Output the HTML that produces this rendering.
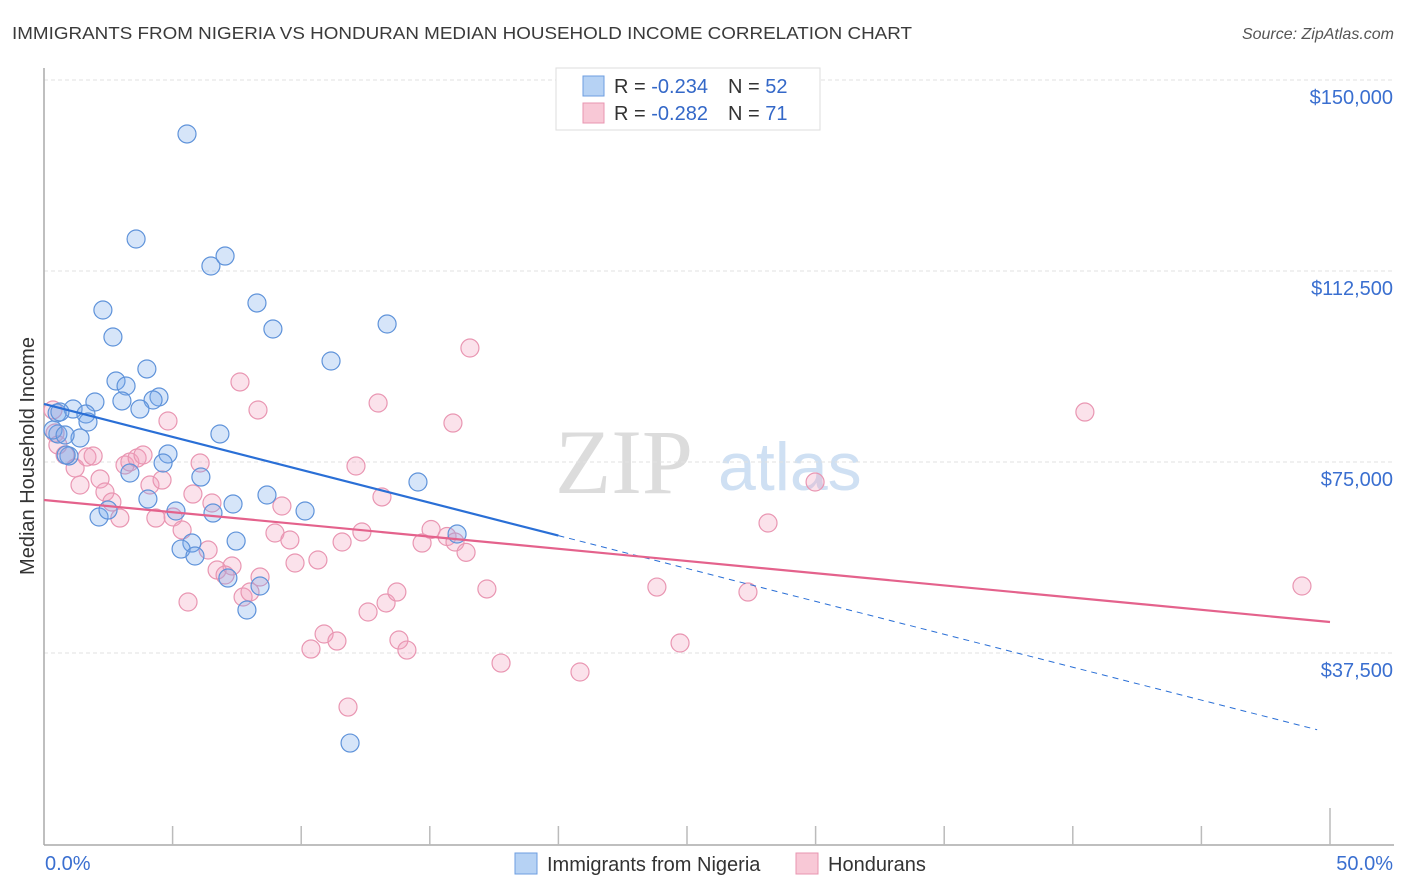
<!DOCTYPE html>
<html><head><meta charset="utf-8"><style>
body{margin:0;background:#fff;font-family:"Liberation Sans",sans-serif}
</style></head><body>
<svg id="chart" width="1406" height="892" xmlns="http://www.w3.org/2000/svg" style="display:block">
<text x="12" y="39" font-size="17.5" fill="#3a3a3a" textLength="900" lengthAdjust="spacingAndGlyphs">IMMIGRANTS FROM NIGERIA VS HONDURAN MEDIAN HOUSEHOLD INCOME CORRELATION CHART</text>
<text x="1394" y="39" font-size="16" font-style="italic" fill="#555" text-anchor="end">Source: ZipAtlas.com</text>
<g>
<text x="555" y="493" font-family="Liberation Serif,serif" font-size="92" fill="#dcdcdc">ZIP</text>
<text x="718" y="490" font-size="68" fill="#cfe0f3">atlas</text>
</g>
<g id="grid"></g>
<g id="axes"></g>
<g id="pts"></g>
<g id="trends"></g>
<text transform="translate(34,456) rotate(-90)" font-size="20" fill="#333" text-anchor="middle">Median Household Income</text>
<g>
<rect x="556" y="68" width="264" height="62" fill="#fff" stroke="#ddd"/>
<rect x="583" y="76" width="21" height="20" fill="#b6d2f4" stroke="#6d9ee0"/>
<rect x="583" y="103" width="21" height="20" fill="#f8c8d6" stroke="#e896b0"/>
<text x="614" y="93" font-size="20" fill="#333">R = <tspan fill="#3468c8">-0.234</tspan><tspan dx="20">N = </tspan><tspan fill="#3468c8">52</tspan></text>
<text x="614" y="120" font-size="20" fill="#333">R = <tspan fill="#3468c8">-0.282</tspan><tspan dx="20">N = </tspan><tspan fill="#3468c8"> 71</tspan></text>
</g>
<g>
<rect x="515" y="853" width="22" height="21" fill="#b6d2f4" stroke="#6d9ee0"/>
<text x="547" y="871" font-size="20" fill="#333">Immigrants from Nigeria</text>
<rect x="796" y="853" width="22" height="21" fill="#f8c8d6" stroke="#e896b0"/>
<text x="828" y="871" font-size="20" fill="#333">Hondurans</text>
</g>
</svg>
<script>
const yTicks=[150000,112500,75000,37500];
const yTickLabels=["$150,000","$112,500","$75,000","$37,500"];
const xTickLabels=["0.0%","50.0%"];
const nigeriaX=[5.56,3.58,6.49,7.04,8.28,2.29,8.90,13.34,2.68,11.16,4.00,2.80,3.19,3.03,1.98,4.47,4.24,3.73,1.13,1.63,0.51,0.54,0.35,1.40,0.82,6.84,4.82,4.63,3.34,6.10,14.54,8.67,4.04,7.35,6.57,10.15,5.13,2.14,2.49,16.06,7.47,5.75,5.33,5.87,7.15,8.40,7.89,11.90,0.97,0.86,0.62,1.71];
const nigeriaY=[139400,118780,113480,115440,106220,104840,101110,102090,99540,94830,93260,90900,89920,86980,86780,87760,87170,85400,85400,84420,84620,80500,81280,79710,80300,80500,76570,74800,72840,72050,71070,68520,67730,66750,64980,65380,65380,64200,65570,60860,59480,59090,57910,56540,52220,50650,45940,19820,76180,76370,84820,82850];
const hondX=[4.82,8.32,12.99,15.90,0.35,0.43,0.54,0.82,1.21,1.67,1.91,1.40,2.18,2.37,2.64,2.95,3.15,3.34,3.62,3.85,4.12,4.59,4.35,5.02,5.37,6.07,5.79,6.53,6.38,6.73,7.31,7.04,5.60,7.74,8.01,8.40,8.98,9.25,9.56,9.76,10.65,11.59,12.13,12.36,13.14,10.38,10.89,11.39,12.60,13.30,13.72,13.80,14.11,14.70,15.05,15.67,15.98,16.41,17.22,17.77,16.56,7.62,40.47,11.82,20.84,24.73,23.83,27.37,28.15,29.98,48.91];
const hondY=[83050,85210,86580,82650,85210,80690,78340,76370,73820,75980,76180,70480,71660,69110,67140,64000,74410,75000,75780,76370,70480,71460,64000,64200,61650,74800,68710,66950,57720,53790,54580,52810,47510,48490,49470,52420,61060,66360,59690,55170,55760,59290,74210,61260,68130,38280,41230,39850,45550,47320,49470,40050,38080,59090,61750,60370,59290,57260,50070,35520,97380,90710,84810,26890,33770,39460,50450,49470,63020,71070,50650];
const nigeriaTrend=[86390,21790];
const hondTrend=[67540,43580];
const NS="http://www.w3.org/2000/svg";
const X=p=>44+p*25.72;
const Y=v=>80+(150000-v)/37500*191;
function mk(tag,attrs,parent){const e=document.createElementNS(NS,tag);for(const k in attrs)e.setAttribute(k,attrs[k]);document.getElementById(parent).appendChild(e);return e;}
yTicks.forEach((t,i)=>{
  const g=mk('line',{x1:44,x2:1394,y1:Y(t),y2:Y(t),stroke:'#e2e2e2','stroke-dasharray':'4,3'},'grid');
  
  
  const l=mk('text',{x:1393,y:Y(t)+24,'font-size':20,fill:'#3a6fd0','text-anchor':'end'},'grid');
  l.textContent=yTickLabels[i];
  
  
});
const ax=mk('line',{x1:44,x2:44,y1:68,y2:845,stroke:'#aaa','stroke-width':1.5},'axes');


const bx=mk('line',{x1:44,x2:1394,y1:845,y2:845,stroke:'#aaa','stroke-width':1.5},'axes');


for(let i=1;i<=10;i++){
  const tk=mk('line',{x1:X(i*5),x2:X(i*5),y1:(i==10?808:826),y2:845,stroke:'#bbb','stroke-width':1.5},'axes');
  
  
}
[0,50].forEach((p,i)=>{
  const t=mk('text',{x:i?1393:45,y:870,'font-size':20,fill:'#3a6fd0','text-anchor':i?'end':'start'},'axes');
  t.textContent=xTickLabels[i];
  
  
});
hondX.forEach((x,i)=>{
  const c=mk('circle',{cx:X(x),cy:Y(hondY[i]),r:9,fill:'rgba(243,160,188,0.3)',stroke:'#e996b2','stroke-width':1.2},'pts');
  
  
});
nigeriaX.forEach((x,i)=>{
  const c=mk('circle',{cx:X(x),cy:Y(nigeriaY[i]),r:9,fill:'rgba(120,170,235,0.3)',stroke:'#5f93da','stroke-width':1.2},'pts');
  
  
});
const by=p=>nigeriaTrend[0]+(nigeriaTrend[1]-nigeriaTrend[0])*p/50;
const b1=mk('line',{x1:X(0),y1:Y(by(0)),x2:X(20),y2:Y(by(20)),stroke:'#2a6fd6','stroke-width':2.2},'trends');


const b2=mk('line',{x1:X(20),y1:Y(by(20)),x2:X(49.5),y2:Y(by(49.5)),stroke:'#2a6fd6','stroke-width':1,'stroke-dasharray':'6,5'},'trends');


const h1=mk('line',{x1:X(0),y1:Y(hondTrend[0]),x2:X(50),y2:Y(hondTrend[1]),stroke:'#e4628c','stroke-width':2.2},'trends');


</script>
</body></html>
